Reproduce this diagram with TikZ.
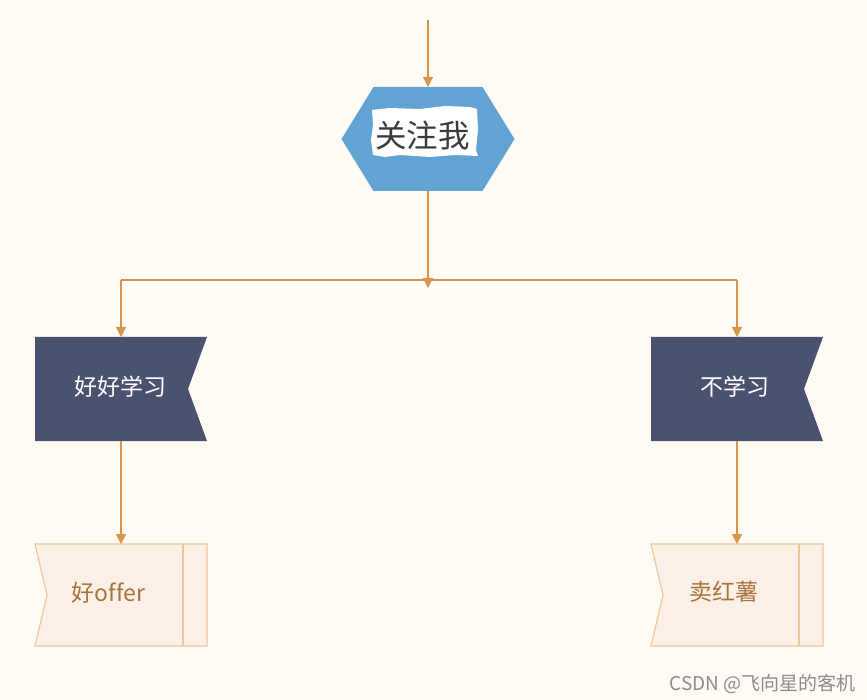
\documentclass[tikz,border=0pt]{standalone}
\usepackage{fontspec}
\setmainfont{Noto Sans CJK SC}[Ligatures=NoCommon]
\usetikzlibrary{arrows.meta,calc}
\definecolor{bgc}{HTML}{FFFAF4}
\definecolor{linec}{HTML}{D4964A}
\definecolor{hexc}{HTML}{62A3D3}
\definecolor{flagc}{HTML}{4B5270}
\definecolor{termfill}{HTML}{FBF0E7}
\definecolor{termdraw}{HTML}{F3C59A}
\definecolor{termtext}{HTML}{A8743A}
\definecolor{hextext}{HTML}{3A3A3A}
\tikzset{
  box/.style={inner sep=0pt, outer sep=0pt},
  conn/.style={draw=linec, line width=1.2pt},
  arr/.style={conn, -{Triangle[length=10pt,width=10pt]}},
  flagtext/.style={text=white, font=\fontsize{23}{26}\selectfont},
  termtextstyle/.style={text=termtext, font=\fontsize{23}{26}\selectfont},
}
\begin{document}
\begin{tikzpicture}[x=1pt,y=-1pt]
\fill[bgc] (0,0) rectangle (867,700);
\useasboundingbox (0,0) rectangle (867,700);

% hexagon
\node[box, minimum width=173pt, minimum height=104pt] (hex) at (428,139) {};
\fill[hexc] (hex.west) -- ([xshift=32pt]hex.north west) -- ([xshift=-32pt]hex.north east)
  -- (hex.east) -- ([xshift=-32pt]hex.south east) -- ([xshift=32pt]hex.south west) -- cycle;
\fill[white] (372,110) -- (390,108) -- (420,109) -- (445,106) -- (470,107) -- (477,109)
  -- (478,130) -- (476,150) -- (478,156) -- (455,155) -- (430,157) -- (400,155) -- (385,157)
  -- (373,155) -- (371,140) -- (373,125) -- cycle;
\node[text=hextext, font=\fontsize{31.5}{34}\selectfont] (hext) at (422.5,136) {关注我};

% flags
\node[box, minimum width=172pt, minimum height=104pt] (L) at (121,389) {};
\fill[flagc] (L.north west) -- (L.north east) -- ([xshift=-19pt]L.east) -- (L.south east) -- (L.south west) -- cycle;
\node[flagtext] (Lt) at (120,387) {好好学习};

\node[box, minimum width=172pt, minimum height=104pt] (R) at (737,389) {};
\fill[flagc] (R.north west) -- (R.north east) -- ([xshift=-19pt]R.east) -- (R.south east) -- (R.south west) -- cycle;
\node[flagtext] (Rt) at (734.5,387) {不学习};

% terminals
\node[box, minimum width=172pt, minimum height=102pt] (LL) at (121,595) {};
\filldraw[fill=termfill, draw=termdraw, line width=1.2pt] (LL.north west) -- (LL.north east) -- (LL.south east)
  -- (LL.south west) -- ([xshift=12pt]LL.west) -- cycle;
\draw[termdraw, line width=1.2pt] ([xshift=-24pt]LL.north east) -- ([xshift=-24pt]LL.south east);
\node[termtextstyle] (LLt) at (108.5,593) {好offer};

\node[box, minimum width=172pt, minimum height=102pt] (RR) at (737,595) {};
\filldraw[fill=termfill, draw=termdraw, line width=1.2pt] (RR.north west) -- (RR.north east) -- (RR.south east)
  -- (RR.south west) -- ([xshift=12pt]RR.west) -- cycle;
\draw[termdraw, line width=1.2pt] ([xshift=-24pt]RR.north east) -- ([xshift=-24pt]RR.south east);
\node[termtextstyle] (RRt) at (724,592) {卖红薯};

% connectors
\coordinate (top) at (428,20);
\coordinate (bar) at (428,280);
\coordinate (barend) at (428,288);
\draw[arr] (top) -- (hex.north);
\draw[arr] (hex.south) -- (barend);
\draw[conn] (bar -| L.north) -- (bar -| R.north);
\draw[arr] (bar -| L.north) -- (L.north);
\draw[arr] (bar -| R.north) -- (R.north);
\draw[arr] (L.south) -- (LL.north);
\draw[arr] (R.south) -- (RR.north);

% watermark
\node[text=black!45, font=\fontsize{19}{21}\selectfont, anchor=east] (wm) at (859,684) {CSDN @飞向星的客机};
\end{tikzpicture}
\end{document}
